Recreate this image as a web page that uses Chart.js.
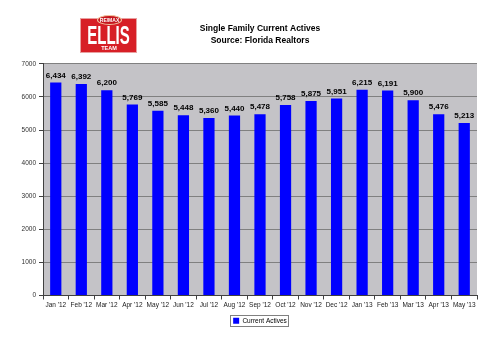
<!DOCTYPE html>
<html>
<head>
<meta charset="utf-8">
<script src="https://cdn.jsdelivr.net/npm/chart.js@4.4.1/dist/chart.umd.min.js"></script>
<style>
  html, body { margin:0; padding:0; background:#fff; }
  #wrap { position:relative; width:500px; height:348px; }
  #chart { position:absolute; left:0; top:0; }
  /* RE/MAX Ellis Team logo */
  #logo { position:absolute; left:80px; top:18px; width:57px; height:35px; background:#d71f26;
          box-shadow: inset 0 0 0 1px #e8a0a0; font-family:"Liberation Sans",Arial,sans-serif; overflow:visible; }
  #logo .oval { position:absolute; left:17px; top:-3px; width:23px; height:8px; border-radius:50%;
                background:#c5161e; border:1px solid #f2c6a0; color:#fff; font-size:5px; font-weight:bold;
                text-align:center; line-height:8px; }
  #logo .name { position:absolute; left:-12px; top:6px; width:81px; text-align:center; color:#fff;
                font-size:25px; font-weight:bold; line-height:22px; transform:scaleX(0.6); }
  #logo .team { position:absolute; left:19px; top:27px; width:20px; text-align:center; color:#fff;
                font-size:5.5px; font-weight:bold; line-height:7px; }
</style>
</head>
<body>
<div id="wrap">
  <canvas id="chart" width="500" height="348"></canvas>
  <div id="logo"><div class="oval">RE/MAX</div><div class="name">ELLIS</div><div class="team">TEAM</div></div>
</div>
<script>
// Single family current actives, Jan '12 - May '13
const months = ["Jan '12","Feb '12","Mar '12","Apr '12","May '12","Jun '12","Jul '12","Aug '12","Sep '12",
                "Oct '12","Nov '12","Dec '12","Jan '13","Feb '13","Mar '13","Apr '13","May '13"];
const actives = [6434, 6392, 6200, 5769, 5585, 5448, 5360, 5440, 5478, 5758, 5875, 5951, 6215, 6191, 5900, 5476, 5213];
const titleLines = ['Single Family Current Actives', 'Source: Florida Realtors'];
const seriesName = 'Current Actives';

const FONT = "Arial, 'Liberation Sans', sans-serif";

// gray plot background
const plotBg = {
  id: 'plotBg',
  beforeDraw(chart){
    const {ctx, chartArea: a} = chart;
    ctx.save();
    ctx.fillStyle = '#c4c3c7';
    ctx.fillRect(a.left, a.top, a.right - a.left, a.bottom - a.top);
    ctx.restore();
  }
};

// numbers above bars + border round legend
const extras = {
  id: 'extras',
  afterDatasetsDraw(chart){
    const ctx = chart.ctx;
    const meta = chart.getDatasetMeta(0);
    ctx.save();
    ctx.font = 'bold 8px ' + FONT;
    ctx.fillStyle = '#000';
    ctx.textAlign = 'center';
    ctx.textBaseline = 'bottom';
    meta.data.forEach((bar, i) => {
      ctx.fillText(actives[i].toLocaleString('en-US'), bar.x, bar.y - 3);
    });
    ctx.restore();
  },
  afterDraw(chart){
    const hb = chart.legend && chart.legend.legendHitBoxes && chart.legend.legendHitBoxes[0];
    if(!hb) return;
    const ctx = chart.ctx;
    ctx.save();
    ctx.strokeStyle = '#808080';
    ctx.lineWidth = 1;
    ctx.strokeRect(Math.round(hb.left) - 2.5, Math.round(hb.top) - 2.5, Math.round(hb.width) + 4, Math.round(hb.height) + 4);
    ctx.restore();
  }
};

const chart = new Chart(document.getElementById('chart').getContext('2d'), {
  type: 'bar',
  data: {
    labels: months,
    datasets: [{
      label: seriesName,
      data: actives,
      backgroundColor: '#0000ff',
      borderWidth: 0,
      barPercentage: 0.44,
      categoryPercentage: 1.0
    }]
  },
  options: {
    responsive: false,
    animation: false,
    layout: { padding: { left: 0, right: 23, top: 0, bottom: 14 } },
    plugins: {
      tooltip: { enabled: false },
      title: {
        display: true,
        text: titleLines,
        fullSize: false,
        color: '#000',
        font: { family: FONT, size: 8.5, weight: 'bold', lineHeight: 1.4 },
        padding: { top: 23, bottom: 17 }
      },
      legend: {
        display: true,
        position: 'bottom',
        fullSize: false,
        labels: {
          boxWidth: 6, boxHeight: 6, padding: 6,
          color: '#000',
          font: { family: FONT, size: 6.5 }
        }
      }
    },
    scales: {
      x: {
        offset: true,
        grid: { display: true, drawOnChartArea: false, offset: true, tickLength: 4, tickColor: '#404040' },
        border: { color: '#404040' },
        ticks: { color: '#202020', font: { family: FONT, size: 6.5 }, padding: 2, maxRotation: 0, autoSkip: false },
        afterFit(s){ s.height = 16; }
      },
      y: {
        min: 0, max: 7000,
        ticks: { stepSize: 1000, color: '#303030', font: { family: FONT, size: 6.5 }, padding: 3,
                 callback: v => String(v) },
        grid: { color: '#808080', tickLength: 4, tickColor: '#404040' },
        border: { color: '#404040' },
        afterFit(s){ s.width = 43; }
      }
    }
  },
  plugins: [plotBg, extras]
});
</script>
</body>
</html>
